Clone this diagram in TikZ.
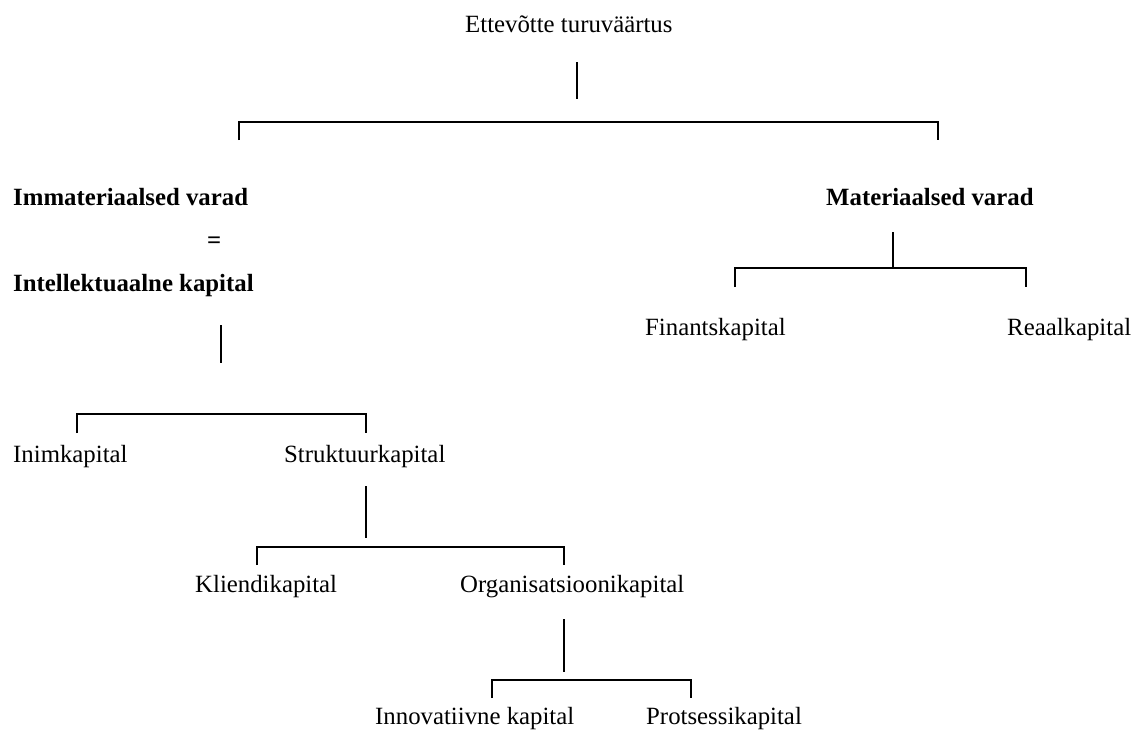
\documentclass[tikz,border=0pt]{standalone}
\usepackage{fontspec}
\setmainfont{Liberation Serif}
\begin{document}
\begin{tikzpicture}[x=1pt,y=-1pt,
  lbl/.style={anchor=base west,inner sep=0pt,font=\fontsize{24.8}{30}\selectfont},
  blbl/.style={anchor=base west,inner sep=0pt,font=\fontsize{24.8}{30}\selectfont\bfseries},
  link/.style={line width=1.4pt}]
\useasboundingbox (0,0) rectangle (1135,729);

% labels
\node[lbl]  (root)  at (465,32)  {Ettevõtte turuväärtus};
\node[blbl] (imm)   at (13,205)  {Immateriaalsed varad};
\node[blbl] (eq)    at (207,248) {=};
\node[blbl] (intel) at (13,291)  {Intellektuaalne kapital};
\node[blbl] (mat)   at (826,205) {Materiaalsed varad};
\node[lbl]  (fin)   at (645,335) {Finantskapital};
\node[lbl]  (reaal) at (1007,335) {Reaalkapital};
\node[lbl]  (inim)  at (13,462)  {Inimkapital};
\node[lbl]  (strk)  at (284,462) {Struktuurkapital};
\node[lbl]  (klie)  at (195,592) {Kliendikapital};
\node[lbl]  (org)   at (460,592) {Organisatsioonikapital};
\node[lbl]  (inno)  at (375,724) {Innovatiivne kapital};
\node[lbl]  (prot)  at (646,724) {Protsessikapital};

% top level
\coordinate (root-a) at (577,62);
\coordinate (root-b) at (577,99);
\coordinate (top-l)  at (239,122);
\coordinate (top-r)  at (938,122);
\coordinate (top-lt) at (239,140);
\coordinate (top-rt) at (938,140);
\draw[link] (root-a) -- (root-b);
\draw[link] (top-lt) -- (top-l) -- (top-r) -- (top-rt);

% tangible assets
\coordinate (mat-a)  at (893,232);
\coordinate (mat-b)  at (893,268);
\coordinate (mat-l)  at (735,268);
\coordinate (mat-r)  at (1026,268);
\coordinate (mat-lt) at (735,287);
\coordinate (mat-rt) at (1026,287);
\draw[link] (mat-a) -- (mat-b);
\draw[link] (mat-lt) -- (mat-l) -- (mat-r) -- (mat-rt);

% intellectual capital
\coordinate (int-a)  at (221,325);
\coordinate (int-b)  at (221,363);
\coordinate (int-l)  at (77,414);
\coordinate (int-r)  at (366,414);
\coordinate (int-lt) at (77,433);
\coordinate (int-rt) at (366,433);
\draw[link] (int-a) -- (int-b);
\draw[link] (int-lt) -- (int-l) -- (int-r) -- (int-rt);

% structural capital
\coordinate (str-a)  at (366,486);
\coordinate (str-b)  at (366,538);
\coordinate (str-l)  at (257,547);
\coordinate (str-r)  at (564,547);
\coordinate (str-lt) at (257,565);
\coordinate (str-rt) at (564,565);
\draw[link] (str-a) -- (str-b);
\draw[link] (str-lt) -- (str-l) -- (str-r) -- (str-rt);

% organisational capital
\coordinate (org-a)  at (564,619);
\coordinate (org-b)  at (564,672);
\coordinate (org-l)  at (492,680);
\coordinate (org-r)  at (691,680);
\coordinate (org-lt) at (492,698);
\coordinate (org-rt) at (691,698);
\draw[link] (org-a) -- (org-b);
\draw[link] (org-lt) -- (org-l) -- (org-r) -- (org-rt);
\end{tikzpicture}
\end{document}
